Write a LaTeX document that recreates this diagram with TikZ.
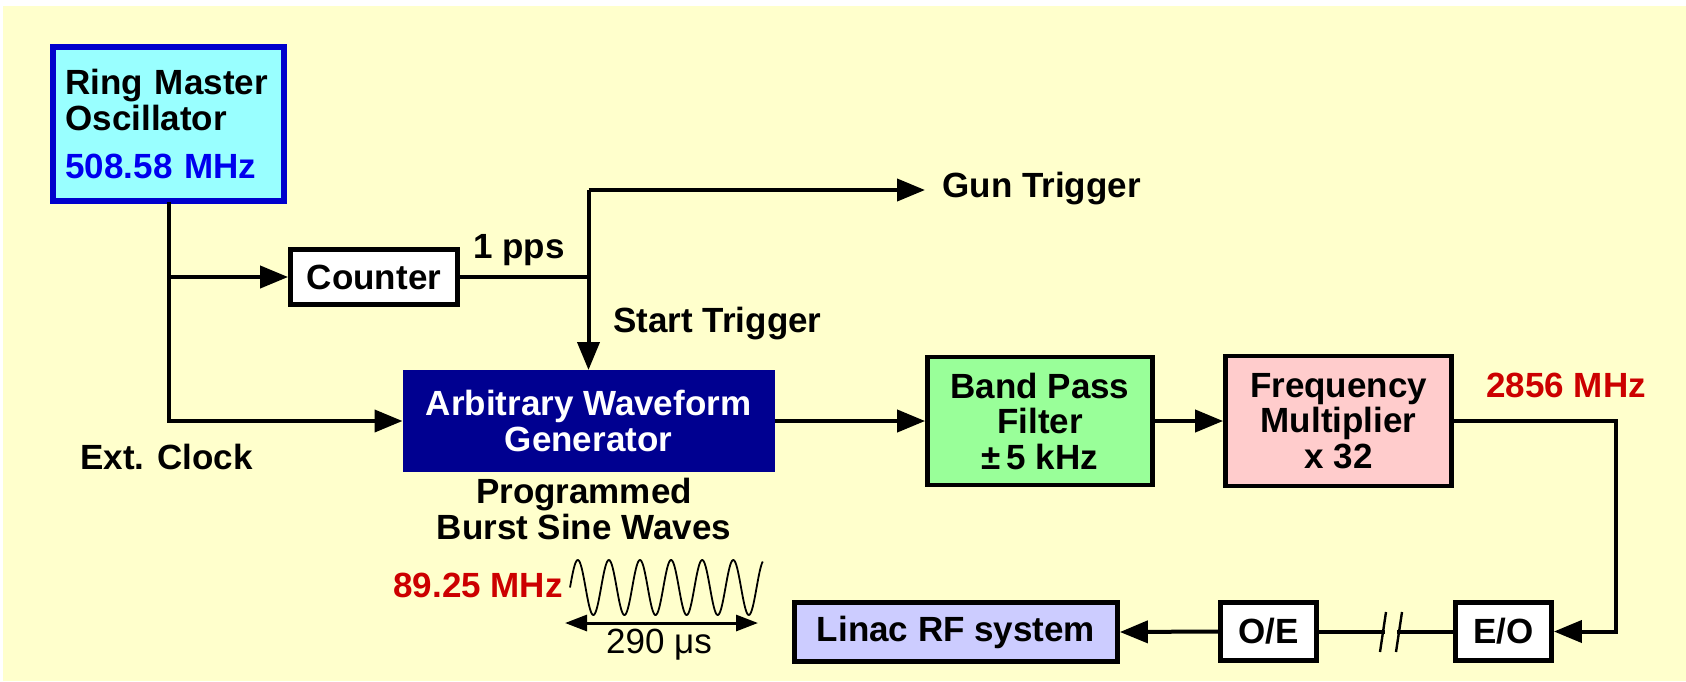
\documentclass[tikz,border=0pt]{standalone}
\usepackage{fontspec}
\setmainfont{Liberation Sans}
\usetikzlibrary{arrows.meta}
\definecolor{bgyellow}{HTML}{FFFFCC}
\definecolor{rmofill}{HTML}{99FFFF}
\definecolor{rmoblue}{HTML}{0000CC}
\definecolor{mhzblue}{HTML}{0000EE}
\definecolor{awgnavy}{HTML}{000090}
\definecolor{bpfgreen}{HTML}{99FF99}
\definecolor{fmpink}{HTML}{FFCCCC}
\definecolor{linacblue}{HTML}{CCCCFF}
\definecolor{freqred}{HTML}{CC0000}
\begin{document}
\begin{tikzpicture}[x=0.5pt,y=-0.5pt,
  font=\fontsize{17.5}{17.75}\selectfont\bfseries,
  blk/.style={draw=black, line width=2.4pt, inner sep=0pt, align=center},
  conn/.style={line width=2pt, line cap=rect},
  arr/.style={line width=2pt, -{Triangle[length=14pt,width=11pt]}},
  lbl/.style={inner sep=0pt, anchor=base west}]
\useasboundingbox (0,0) rectangle (1686,681);
\fill[bgyellow] (3,6) rectangle (1686,681);

% boxes
\node[draw=rmoblue, fill=rmofill, line width=3pt, inner xsep=6.25pt, inner ysep=0pt,
      minimum width=115.5pt, minimum height=77pt, text width=103pt, align=left]
      (rmo) at (168.5,124) {Ring Master\\Oscillator\\[6.5pt]\textcolor{mhzblue}{508.58 MHz}};
\node[blk, fill=white, minimum width=83.5pt, minimum height=27.5pt] (counter) at (374,277) {Counter};
\node[fill=awgnavy, draw=awgnavy, line width=0.5pt, inner sep=0pt, align=center, text=white,
      minimum width=185.5pt, minimum height=50.5pt] (awg) at (588.5,421) {Arbitrary Waveform\\Generator};
\node[blk, fill=bpfgreen, minimum width=112.5pt, minimum height=64pt] (bpf) at (1040,421) {Band Pass\\Filter\\{\fontseries{b}\selectfont\char"00B1}\,5 kHz};
\node[blk, fill=fmpink, minimum width=113pt, minimum height=65pt] (fm) at (1338.5,421) {Frequency\\Multiplier\\x 32};
\node[blk, fill=white, minimum width=48pt, minimum height=29pt] (eo) at (1503.5,631.5) {E/O};
\node[blk, fill=white, minimum width=48pt, minimum height=29pt] (oe) at (1268.5,631.5) {O/E};
\node[blk, fill=linacblue, minimum width=161.5pt, minimum height=29.5pt] (linac) at (956,632) {Linac RF system};

% labels
\node[lbl] (gun) at (942,197) {Gun Trigger};
\node[lbl] (pps) at (473,258) {1 pps};
\node[lbl] (start) at (613,332) {Start Trigger};
\node[lbl] (ext) at (80,469) {Ext. Clock};
\node[inner sep=0pt, align=center] (prog) at (584,509) {Programmed\\Burst Sine Waves};
\node[lbl, text=freqred] (f89) at (393,597) {89.25 MHz};
\node[inner sep=0pt, anchor=base, font=\fontsize{17.5}{17.75}\selectfont\mdseries] (dur) at (659,653) {290 \char"03BC s};
\node[lbl, text=freqred] (f2856) at (1486,397) {2856 MHz};

% connectors
\coordinate (top) at (588.5,190);
\coordinate (gunend) at (925,190);
\coordinate (rt) at (1616,0);
\coordinate (brkL) at (1383,631.5);
\coordinate (brkR) at (1399,631.5);

\draw[conn] (rmo.south) -- (rmo.south |- awg.west) coordinate (jc);
\draw[arr] (jc) -- (awg.west);
\draw[arr] (rmo.south |- counter.west) -- (counter.west);
\draw[conn] (counter.east) -- (counter.east -| top);
\draw[arr] (top) -- (awg.north);
\draw[arr] (top) -- (gunend);
\draw[arr] (awg.east) -- (bpf.west);
\draw[arr] (bpf.east) -- (fm.west);
\draw[conn] (fm.east) -- (fm.east -| rt) -- (rt |- eo.east);
\draw[arr] (rt |- eo.east) -- (eo.east);
\draw[conn] (eo.west) -- (brkR);
\draw[conn] (oe.east) -- (brkL);
\draw[line width=1.2pt] (1380,652) -- (1386,612);
\draw[line width=1.2pt] (1396,652) -- (1402,612);
\draw[arr] (oe.west) -- (linac.east);

% burst sine wave and duration
\draw[line width=0.9pt] plot[domain=0:6.2, samples=250, smooth] ({570+\x*31.1}, {587.5-27.5*sin(\x*360)});
\coordinate (dl) at (565,623);
\coordinate (dr) at (758,623);
\draw[line width=1.5pt, {Triangle[length=11pt,width=8pt]}-{Triangle[length=11pt,width=8pt]}] (dl) -- (dr);
\end{tikzpicture}
\end{document}
